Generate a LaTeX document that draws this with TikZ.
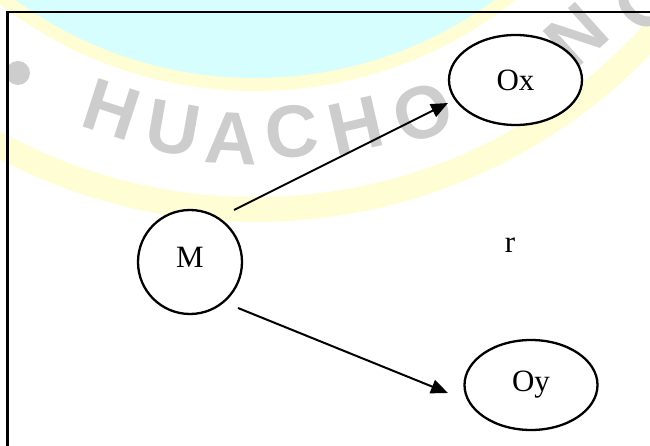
\documentclass[tikz,border=0pt]{standalone}
\usepackage{fontspec}
\setmainfont{Liberation Serif}
\newfontfamily\wmfont{Liberation Sans}
\usetikzlibrary{shapes.geometric,arrows.meta}
\definecolor{wmcyan}{HTML}{D6FEFF}
\definecolor{wmyellow}{HTML}{FFFDD4}
\definecolor{wmgray}{HTML}{CDCDCD}
\begin{document}
\begin{tikzpicture}[x=1pt,y=-1pt,
  wmletter/.style={font=\wmfont\bfseries\fontsize{74}{74}\selectfont, text=wmgray, inner sep=0pt},
  obox/.style={draw, line width=2.3pt, fill=white, ellipse, minimum width=133pt, minimum height=90pt, inner sep=0pt, font=\fontsize{31}{31}\selectfont},
  mbox/.style={draw, line width=2.3pt, fill=white, circle, minimum size=104pt, inner sep=0pt, font=\fontsize{31}{31}\selectfont, text depth=10pt},
  plain/.style={inner sep=0pt, font=\fontsize{31}{31}\selectfont},
  link/.style={line width=2pt, -{Triangle[length=17pt,width=14pt]}}]
\useasboundingbox (0,0) rectangle (650,446);
\clip (0,0) rectangle (650,446);
% watermark
\coordinate (wc) at (255,-328);
\fill[wmyellow, even odd rule] (wc) circle[radius=550pt] (wc) circle[radius=525pt];
\fill[wmyellow] (wc) circle[radius=419pt];
\fill[wmcyan] (wc) circle[radius=406pt];
\fill[wmgray] (18,73) circle[radius=12pt];
\node[wmletter, rotate=-18] (w1) at (112,110) {H};
\node[wmletter, rotate=-10] (w2) at (173,128) {U};
\node[wmletter, rotate=-3]  (w3) at (232,138) {A};
\node[wmletter, rotate=5]   (w4) at (292,132) {C};
\node[wmletter, rotate=13]  (w5) at (356,126) {H};
\node[wmletter, rotate=20]  (w6) at (423,113) {O};
\node[wmletter, rotate=42]  (w7) at (576,36) {N};
\node[wmletter, rotate=49]  (w8) at (646,0) {O};
% frame
\draw[line width=2.5pt] (7.5,470) -- (7.5,12) -- (670,12);
% diagram
\node[mbox] (M) at (190,262) {M};
\node[obox] (Ox) at (515.5,80) {Ox};
\node[obox] (Oy) at (531,385) {Oy};
\node[plain] (r) at (510,245) {r};
\coordinate (s1) at (234,210);
\coordinate (e1) at (448,103);
\coordinate (s2) at (238,308);
\coordinate (e2) at (448,393);
\draw[link] (s1) -- (e1);
\draw[link] (s2) -- (e2);
\end{tikzpicture}
\end{document}
